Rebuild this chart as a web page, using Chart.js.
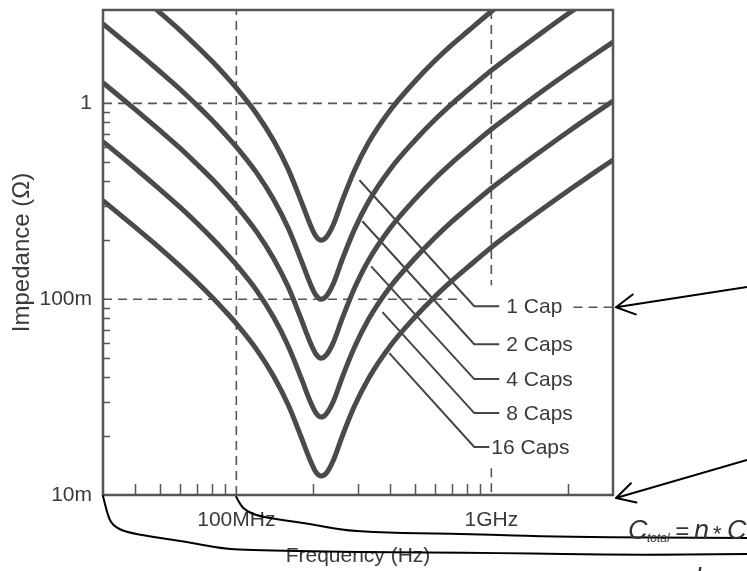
<!DOCTYPE html>
<html>
<head>
<meta charset="utf-8">
<script src="https://cdn.jsdelivr.net/npm/chart.js@4.4.0/dist/chart.umd.min.js"></script>
<style>
  html, body { margin: 0; padding: 0; background: #fff; }
  #wrap { width: 747px; height: 571px; position: relative; }
</style>
</head>
<body>
<div id="wrap"><canvas id="impChart"></canvas></div>
<script>
/* ---------- values ---------- */
const freqMHz = [30, 40, 50, 60, 70, 80, 90, 100, 120, 140, 160, 180, 195, 205, 215, 225, 240, 260, 290, 330, 400, 500, 600, 700, 800, 1000, 1200, 1500, 2000, 2500, 3000];

// impedance in ohms
const cap1  = [5.10, 3.74, 2.92, 2.37, 1.96, 1.65, 1.40, 1.20, 0.886, 0.646, 0.459, 0.314, 0.240, 0.210, 0.200, 0.207, 0.240, 0.318, 0.452, 0.631, 0.918, 1.29, 1.65, 1.99, 2.31, 2.95, 3.53, 4.39, 5.73, 7.01, 8.22];
const cap2  = [2.55, 1.87, 1.46, 1.185, 0.98, 0.825, 0.70, 0.60, 0.443, 0.323, 0.2295, 0.157, 0.120, 0.105, 0.100, 0.1035, 0.120, 0.159, 0.226, 0.3155, 0.459, 0.645, 0.825, 0.995, 1.155, 1.475, 1.767, 2.19, 2.87, 3.50, 4.11];
const cap4  = [1.275, 0.935, 0.73, 0.593, 0.49, 0.413, 0.35, 0.30, 0.2215, 0.1615, 0.115, 0.0785, 0.060, 0.0525, 0.050, 0.0518, 0.060, 0.0795, 0.113, 0.158, 0.2295, 0.3225, 0.4125, 0.4975, 0.578, 0.738, 0.883, 1.097, 1.433, 1.752, 2.056];
const cap8  = [0.638, 0.468, 0.365, 0.296, 0.245, 0.206, 0.175, 0.150, 0.111, 0.0808, 0.0574, 0.0393, 0.030, 0.0263, 0.025, 0.0259, 0.030, 0.0398, 0.0565, 0.0789, 0.115, 0.161, 0.206, 0.249, 0.289, 0.369, 0.442, 0.548, 0.717, 0.876, 1.028];
const cap16 = [0.319, 0.234, 0.183, 0.148, 0.1225, 0.103, 0.0875, 0.075, 0.0554, 0.0404, 0.0287, 0.0196, 0.015, 0.0131, 0.0125, 0.0129, 0.015, 0.0199, 0.0283, 0.0394, 0.0574, 0.0806, 0.103, 0.124, 0.144, 0.184, 0.221, 0.274, 0.358, 0.438, 0.514];

const capNames = ['1 Cap', '2 Caps', '4 Caps', '8 Caps', '16 Caps'];

// axis ticks (Hz / ohms)
const xTickValues = [4e7, 5e7, 6e7, 7e7, 8e7, 9e7, 1e8, 2e8, 3e8, 4e8, 5e8, 6e8, 7e8, 8e8, 9e8, 1e9, 2e9];
const xLabelValues = [1e8, 1e9];
const xLabelTexts = ['100MHz', '1GHz'];
const yTickValues = [0.01, 0.02, 0.03, 0.04, 0.05, 0.06, 0.07, 0.08, 0.09, 0.1, 0.2, 0.3, 0.4, 0.5, 0.6, 0.7, 0.8, 0.9, 1];
const yLabelValues = [0.01, 0.1, 1];
const yLabelTexts = ['10m', '100m', '1'];

// leader lines from each curve to its label
const leaderStartMHz = [304, 312, 338, 374, 398];
const leaderStartZ = [0.405, 0.25, 0.147, 0.0859, 0.053];
const leaderBendMHz = [857, 857, 857, 857, 857];
const labelZ = [0.0921, 0.0589, 0.0391, 0.0262, 0.0176];
const leaderEndMHz = [1074, 1074, 1074, 1074, 982];
const labelMHz = [1145, 1145, 1145, 1145, 1000];

/* ---------- styling ---------- */
const INK = '#4a4a4a';
const TEXT = '#3a3a3a';
Chart.defaults.font.family = '"Liberation Sans", Arial, sans-serif';
Chart.defaults.color = TEXT;

const pts = (vals) => freqMHz.map((f, i) => ({ x: f * 1e6, y: vals[i] }));

const curveSets = [cap1, cap2, cap4, cap8, cap16].map((vals, i) => ({
  label: capNames[i],
  data: pts(vals),
  borderColor: INK,
  borderWidth: 5,
  pointRadius: 0,
  cubicInterpolationMode: 'monotone',
  fill: false
}));

const leaderSets = capNames.map((name, i) => ({
  label: name + ' leader',
  data: [
    { x: leaderStartMHz[i] * 1e6, y: leaderStartZ[i] },
    { x: leaderBendMHz[i] * 1e6, y: labelZ[i] },
    { x: leaderEndMHz[i] * 1e6, y: labelZ[i] }
  ],
  borderColor: '#444',
  borderWidth: 2,
  pointRadius: 0,
  tension: 0
}));

const dashed = (data) => ({
  label: 'ref',
  data: data,
  borderColor: '#555',
  borderWidth: 1.6,
  borderDash: [9, 6],
  pointRadius: 0,
  tension: 0,
  spanGaps: false
});

const refSets = [
  dashed([{ x: 3e7, y: 1 }, { x: 3e9, y: 1 }]),
  dashed([{ x: 3e7, y: 0.1 }, { x: 7.7e8, y: 0.1 }]),
  dashed([{ x: 2.1e9, y: 0.091 }, { x: 3e9, y: 0.091 }]),
  dashed([{ x: 1e8, y: 0.01 }, { x: 1e8, y: 3 }]),
  dashed([{ x: 1e9, y: 3 }, { x: 1e9, y: 0.118 }, { x: 1e9, y: null }, { x: 1e9, y: 0.0137 }, { x: 1e9, y: 0.01 }])
];

// inward ticks, frame, labels and the pen notes on the scan
const decorations = {
  id: 'decorations',
  afterDatasetsDraw(chart) {
    const { ctx, chartArea: a } = chart;
    const xs = chart.scales.x, ys = chart.scales.y;
    ctx.save();
    ctx.strokeStyle = '#555';
    ctx.lineWidth = 1.5;
    ctx.beginPath();
    xTickValues.forEach(v => {
      if (xLabelValues.includes(v)) return;
      const px = Math.round(xs.getPixelForValue(v)) + 0.5;
      ctx.moveTo(px, a.bottom);
      ctx.lineTo(px, a.bottom - 11);
    });
    yTickValues.forEach(v => {
      if (yLabelValues.includes(v)) return;
      const py = Math.round(ys.getPixelForValue(v)) + 0.5;
      ctx.moveTo(a.left, py);
      ctx.lineTo(a.left + 7, py);
    });
    ctx.stroke();

    // frame
    ctx.strokeStyle = '#555';
    ctx.lineWidth = 2.5;
    ctx.strokeRect(a.left, a.top, a.right - a.left, a.bottom - a.top);

    // cap labels
    ctx.fillStyle = TEXT;
    ctx.font = '21px "Liberation Sans", Arial, sans-serif';
    ctx.textAlign = 'left';
    ctx.textBaseline = 'middle';
    capNames.forEach((name, i) => {
      ctx.fillText(name, xs.getPixelForValue(labelMHz[i] * 1e6), ys.getPixelForValue(labelZ[i]) + 1);
    });
    ctx.restore();
  },
  afterDraw(chart) {
    const { ctx, chartArea: a } = chart;
    const xs = chart.scales.x, ys = chart.scales.y;
    ctx.save();
    ctx.strokeStyle = '#000';
    ctx.lineWidth = 2;
    ctx.lineJoin = 'round';
    ctx.lineCap = 'round';

    // arrows pointing at the frame
    const arrow = (sx, sy, tx, ty) => {
      ctx.beginPath();
      ctx.moveTo(sx, sy);
      ctx.lineTo(tx, ty);
      const ang = Math.atan2(sy - ty, sx - tx);
      [-0.5, 0.5].forEach(d => {
        ctx.moveTo(tx, ty);
        ctx.lineTo(tx + 21 * Math.cos(ang + d), ty + 21 * Math.sin(ang + d));
      });
      ctx.stroke();
    };
    arrow(747, 287, a.right + 3, ys.getPixelForValue(0.091));
    arrow(747, 460, a.right + 3, a.bottom + 3);

    // pen strokes under the axis
    const pen = (p) => {
      ctx.beginPath();
      ctx.moveTo(p[0][0], p[0][1]);
      for (let i = 1; i < p.length - 1; i++) {
        const mx = (p[i][0] + p[i + 1][0]) / 2, my = (p[i][1] + p[i + 1][1]) / 2;
        ctx.quadraticCurveTo(p[i][0], p[i][1], mx, my);
      }
      const l = p[p.length - 1];
      ctx.lineTo(l[0], l[1]);
      ctx.stroke();
    };
    const x30 = xs.getPixelForValue(3e7), x100 = xs.getPixelForValue(1e8), yb = a.bottom;
    pen([[x30, yb + 1], [x30 + 4, yb + 18], [x30 + 9, yb + 30], [x30 + 22, yb + 37], [x30 + 50, yb + 42],
         [x30 + 85, yb + 47], [x30 + 115, yb + 53], [x30 + 140, yb + 55], [x30 + 250, yb + 57],
         [x30 + 400, yb + 58], [x30 + 520, yb + 60], [747, yb + 59]]);
    pen([[x100, yb + 2], [x100 + 4, yb + 10], [x100 + 10, yb + 16], [x100 + 22, yb + 21], [x100 + 45, yb + 25],
         [x100 + 75, yb + 29], [x100 + 110, yb + 36], [x100 + 165, yb + 38], [x100 + 230, yb + 39],
         [x100 + 325, yb + 42], [747, yb + 43]]);

    // formula in the lower right corner
    ctx.fillStyle = '#333';
    ctx.textBaseline = 'alphabetic';
    ctx.textAlign = 'left';
    const F = (s) => 'italic ' + s + 'px "Liberation Sans", Arial, sans-serif';
    ctx.font = F(27); ctx.fillText('C', 628, 539);
    ctx.font = F(12); ctx.fillText('total', 647, 542);
    ctx.font = F(24); ctx.fillText('=', 675, 539);
    ctx.font = F(27); ctx.fillText('n', 694, 539);
    ctx.font = F(22); ctx.fillText('*', 712, 541);
    ctx.font = F(27); ctx.fillText('C', 727, 539);
    ctx.font = F(27); ctx.fillText('l', 695, 587);
    ctx.restore();
  }
};

new Chart(document.getElementById('impChart'), {
  type: 'line',
  data: { datasets: [...curveSets, ...leaderSets, ...refSets] },
  options: {
    responsive: true,
    maintainAspectRatio: false,
    animation: false,
    layout: { padding: { top: 10, right: 134, left: 0, bottom: 0 } },
    plugins: { legend: { display: false }, tooltip: { enabled: false } },
    scales: {
      x: {
        type: 'logarithmic',
        min: 3e7,
        max: 3e9,
        afterFit: (s) => { s.height = 76; s.paddingLeft = 0; s.paddingRight = 0; },
        afterBuildTicks: (s) => { s.ticks = xTickValues.map(v => ({ value: v })); },
        grid: { display: false, drawTicks: false },
        border: { display: false },
        ticks: {
          autoSkip: false,
          maxRotation: 0,
          padding: 13,
          font: { size: 21 },
          color: TEXT,
          callback: (v) => {
            const k = xLabelValues.indexOf(v);
            return k >= 0 ? xLabelTexts[k] : '';
          }
        },
        title: { display: true, text: 'Frequency (Hz)', font: { size: 21 }, color: TEXT, padding: { top: 0, bottom: 2 } }
      },
      y: {
        type: 'logarithmic',
        min: 0.01,
        max: 3,
        afterFit: (s) => { s.width = 103; s.paddingTop = 0; s.paddingBottom = 0; },
        afterBuildTicks: (s) => { s.ticks = yTickValues.map(v => ({ value: v })); },
        grid: { display: false, drawTicks: false },
        border: { display: false },
        ticks: {
          autoSkip: false,
          padding: 11,
          font: { size: 21 },
          color: TEXT,
          callback: (v) => {
            const k = yLabelValues.indexOf(v);
            return k >= 0 ? yLabelTexts[k] : '';
          }
        },
        title: { display: true, text: 'Impedance (Ω)', font: { size: 24 }, color: TEXT, padding: { top: 8, bottom: 0 } }
      }
    }
  },
  plugins: [decorations]
});
</script>
</body>
</html>
